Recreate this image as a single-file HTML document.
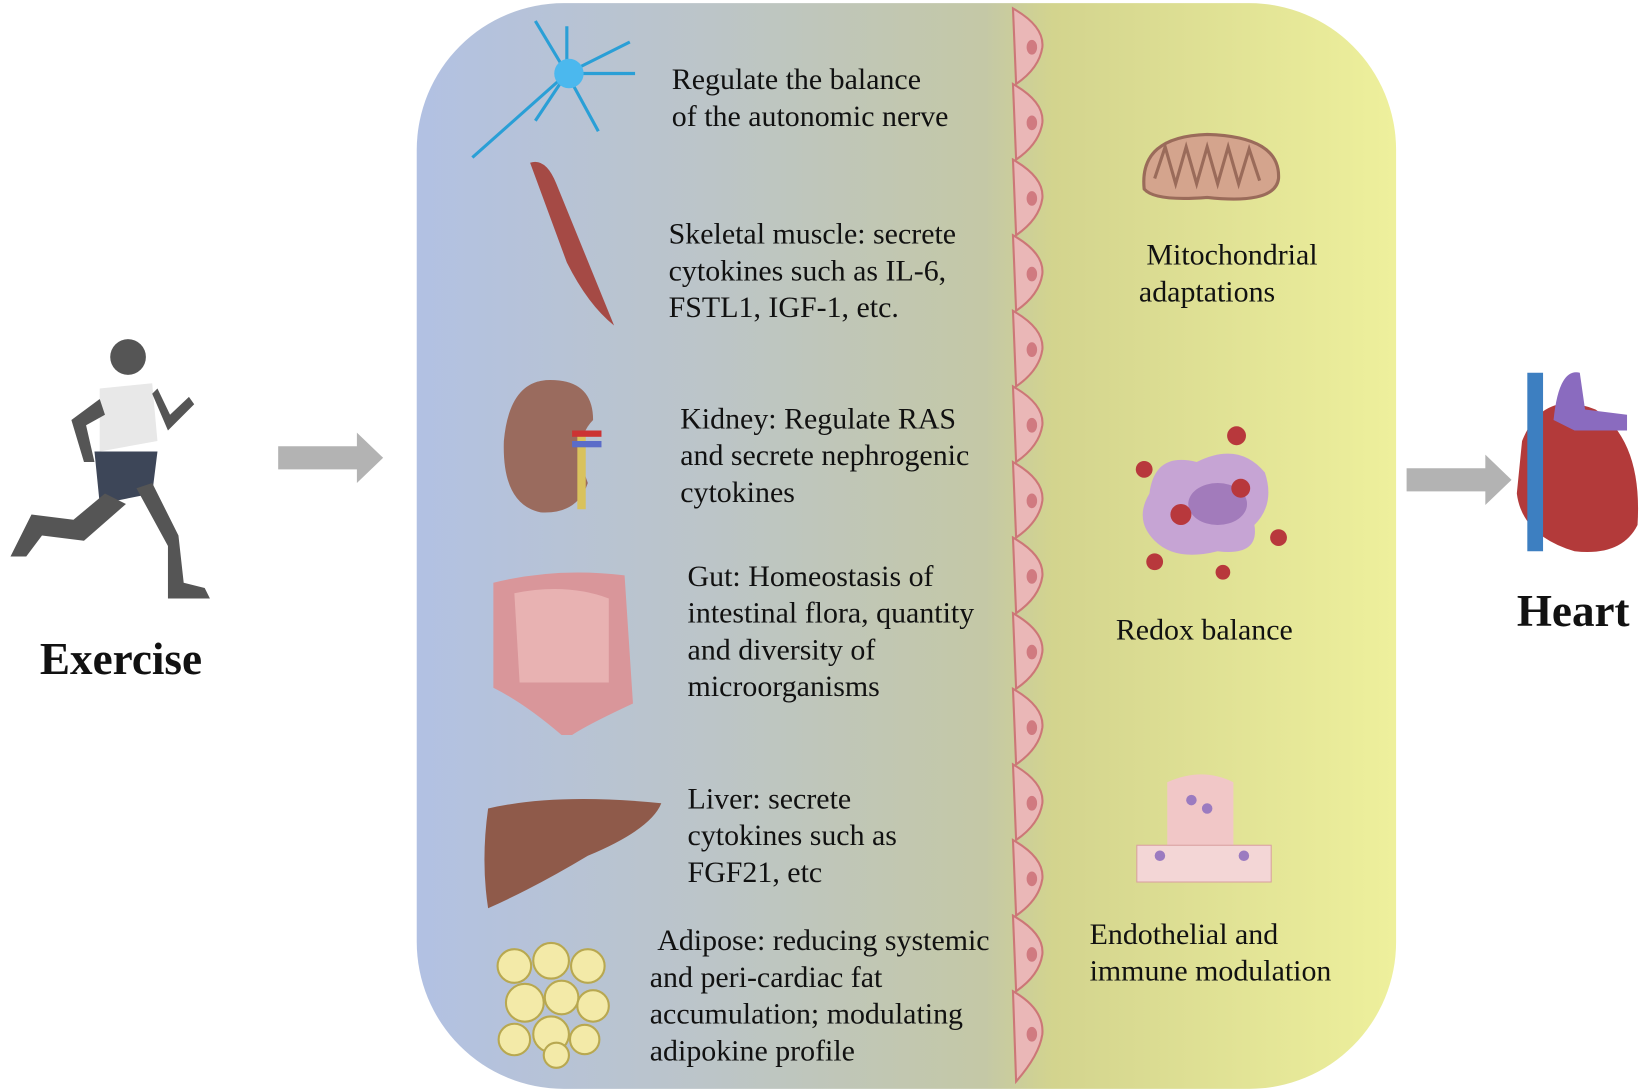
<!DOCTYPE html>
<html><head><meta charset="utf-8"><style>
html,body{margin:0;padding:0;background:#fff;width:1646px;height:1092px;overflow:hidden}
#w{position:absolute;left:0;top:0;width:1568px;height:1040px;transform:scale(1.0497,1.05);transform-origin:0 0;font-family:"Liberation Serif",serif;color:#111}
.t{position:absolute;font-size:28.5px;line-height:35px;white-space:nowrap}
.panel{position:absolute;left:397px;top:3px;width:933px;height:1034px;border-radius:140px;background:linear-gradient(90deg,#b2c1e3 0%,#bcc5c8 30%,#c4c8a6 58%,#d3d48e 65%,#eef09c 100%)}
</style></head><body><div id="w">
<div class="panel"></div>
<svg width="1568" height="1040" style="position:absolute;left:0;top:0">
<g fill="#eab7b7" stroke="#c77" stroke-width="2">
<path d="M965 8 Q995 25 993 45 Q990 65 968 80 Z"/>
<path d="M965 80 Q995 97 993 117 Q990 137 968 152 Z"/>
<path d="M965 152 Q995 169 993 189 Q990 209 968 224 Z"/>
<path d="M965 224 Q995 241 993 261 Q990 281 968 296 Z"/>
<path d="M965 296 Q995 313 993 333 Q990 353 968 368 Z"/>
<path d="M965 368 Q995 385 993 405 Q990 425 968 440 Z"/>
<path d="M965 440 Q995 457 993 477 Q990 497 968 512 Z"/>
<path d="M965 512 Q995 529 993 549 Q990 569 968 584 Z"/>
<path d="M965 584 Q995 601 993 621 Q990 641 968 656 Z"/>
<path d="M965 656 Q995 673 993 693 Q990 713 968 728 Z"/>
<path d="M965 728 Q995 745 993 765 Q990 785 968 800 Z"/>
<path d="M965 800 Q995 817 993 837 Q990 857 968 872 Z"/>
<path d="M965 872 Q995 889 993 909 Q990 929 968 944 Z"/>
<path d="M965 944 Q995 961 993 985 Q990 1005 968 1030 Z"/>
</g>
<g fill="#d07a80">
<ellipse cx="983" cy="45" rx="5" ry="7"/><ellipse cx="983" cy="117" rx="5" ry="7"/><ellipse cx="983" cy="189" rx="5" ry="7"/><ellipse cx="983" cy="261" rx="5" ry="7"/><ellipse cx="983" cy="333" rx="5" ry="7"/><ellipse cx="983" cy="405" rx="5" ry="7"/><ellipse cx="983" cy="477" rx="5" ry="7"/><ellipse cx="983" cy="549" rx="5" ry="7"/><ellipse cx="983" cy="621" rx="5" ry="7"/><ellipse cx="983" cy="693" rx="5" ry="7"/><ellipse cx="983" cy="765" rx="5" ry="7"/><ellipse cx="983" cy="837" rx="5" ry="7"/><ellipse cx="983" cy="909" rx="5" ry="7"/><ellipse cx="983" cy="985" rx="5" ry="7"/>
</g>
<path d="M265 425 H340 V412 L365 436 L340 460 V447 H265 Z" fill="#b3b3b3"/>
<path d="M1340 446 H1415 V433 L1440 457 L1415 481 V468 H1340 Z" fill="#b3b3b3"/>
<g fill="#555">
<circle cx="122" cy="340" r="17"/>
<path d="M95 370 L145 365 L150 420 L95 430 Z" fill="#e8e8e8"/>
<path d="M90 430 L150 430 L145 470 L95 480 Z" fill="#3d4658"/>
<path d="M100 470 L70 495 L30 490 L10 530 L25 530 L40 510 L80 515 L120 480 Z"/>
<path d="M130 465 L160 520 L160 570 L200 570 L195 560 L175 555 L170 510 L145 460 Z"/>
<path d="M95 380 L68 400 L80 440 L90 440 L82 405 L100 395 Z"/>
<path d="M145 375 L160 410 L185 385 L180 378 L162 395 L150 370 Z"/>
</g>
<g stroke="#2a9fd6" stroke-width="3" fill="none">
<path d="M540 70 L450 150"/><path d="M540 70 L510 20"/><path d="M540 70 L600 40"/><path d="M540 70 L605 70"/><path d="M540 70 L570 125"/><path d="M540 70 L510 115"/><path d="M540 70 L540 25"/>
</g>
<circle cx="542" cy="70" r="14" fill="#4bb8ee"/>
<path d="M505 155 Q520 150 530 175 L585 310 Q560 290 540 250 Z" fill="#a54a45"/>
<path d="M520 362 Q565 360 565 400 Q545 420 560 460 Q550 490 515 488 Q478 480 480 420 Q485 365 520 362 Z" fill="#9a6b5e"/>
<rect x="550" y="415" width="8" height="70" fill="#d9c25d"/>
<rect x="545" y="410" width="28" height="6" fill="#c33"/>
<rect x="545" y="420" width="28" height="6" fill="#5a6cc9"/>
<path d="M470 555 Q530 540 595 548 L603 670 Q560 690 545 700 L535 700 Q500 670 470 655 Z" fill="#d9969a"/>
<path d="M490 565 Q540 555 580 570 L580 650 L495 650 Z" fill="#e8b2b2"/>
<path d="M465 770 Q530 755 630 765 Q620 790 560 815 Q510 845 465 865 Q458 820 465 770 Z" fill="#8f5a4a"/>
<g fill="#f3eaa8" stroke="#b8a850" stroke-width="2">
<circle cx="490" cy="920" r="16"/><circle cx="525" cy="915" r="17"/><circle cx="560" cy="920" r="16"/><circle cx="500" cy="955" r="18"/><circle cx="535" cy="950" r="16"/><circle cx="565" cy="958" r="15"/><circle cx="490" cy="990" r="15"/><circle cx="525" cy="985" r="17"/><circle cx="557" cy="990" r="14"/><circle cx="530" cy="1005" r="12"/>
</g>
<path d="M1090 180 Q1085 130 1150 128 Q1220 130 1218 170 Q1215 195 1150 188 Q1100 192 1090 180 Z" fill="#d4a48d" stroke="#9a6b5a" stroke-width="3"/>
<path d="M1100 170 L1110 140 L1120 175 L1130 140 L1140 175 L1150 140 L1160 175 L1170 140 L1180 175 L1190 142 L1200 172" stroke="#9a6b5a" stroke-width="3" fill="none"/>
<path d="M1095 470 Q1100 430 1140 440 Q1180 420 1205 450 Q1215 480 1195 500 Q1200 530 1160 525 Q1120 535 1100 515 Q1080 495 1095 470 Z" fill="#c6a4d4"/>
<ellipse cx="1160" cy="480" rx="28" ry="20" fill="#a27bbb"/>
<g fill="#b8383c"><circle cx="1178" cy="415" r="9"/><circle cx="1090" cy="447" r="8"/><circle cx="1125" cy="490" r="10"/><circle cx="1182" cy="465" r="9"/><circle cx="1218" cy="512" r="8"/><circle cx="1100" cy="535" r="8"/><circle cx="1165" cy="545" r="7"/></g>
<path d="M1112 745 Q1145 730 1175 745 L1175 805 L1112 805 Z" fill="#f1c7c7"/>
<rect x="1083" y="805" width="128" height="35" fill="#f3d6d6" stroke="#d9a0a0"/>
<g fill="#9b7bc0"><circle cx="1135" cy="762" r="5"/><circle cx="1150" cy="770" r="5"/><circle cx="1105" cy="815" r="5"/><circle cx="1185" cy="815" r="5"/></g>
<path d="M1450 420 Q1470 370 1520 390 Q1565 420 1560 500 Q1545 530 1500 525 Q1450 510 1445 470 Z" fill="#b33a3a"/>
<rect x="1455" y="355" width="15" height="170" fill="#3d7fc1"/>
<path d="M1480 400 Q1485 350 1505 355 L1510 390 L1550 395 L1550 410 L1500 410 Z" fill="#8a6bbf"/>
</svg>
<div class="t" style="left:38px;top:611px;font-size:43px;font-weight:bold">Exercise</div>
<div class="t" style="left:1445px;top:565px;font-size:43px;font-weight:bold">Heart</div>
<div class="t" style="left:640px;top:59px">Regulate the balance<br>of the autonomic nerve</div>
<div class="t" style="left:637px;top:206px">Skeletal muscle: secrete<br>cytokines such as IL-6,<br>FSTL1, IGF-1, etc.</div>
<div class="t" style="left:648px;top:382px">Kidney: Regulate RAS<br>and secrete nephrogenic<br>cytokines</div>
<div class="t" style="left:655px;top:532px">Gut: Homeostasis of<br>intestinal flora, quantity<br>and diversity of<br>microorganisms</div>
<div class="t" style="left:655px;top:744px">Liver: secrete<br>cytokines such as<br>FGF21, etc</div>
<div class="t" style="left:619px;top:879px">&nbsp;Adipose: reducing systemic<br>and peri-cardiac fat<br>accumulation; modulating<br>adipokine profile</div>
<div class="t" style="left:1085px;top:226px">&nbsp;Mitochondrial<br>adaptations</div>
<div class="t" style="left:1063px;top:583px">Redox balance</div>
<div class="t" style="left:1038px;top:873px">Endothelial and<br>immune modulation</div>
</div></body></html>
